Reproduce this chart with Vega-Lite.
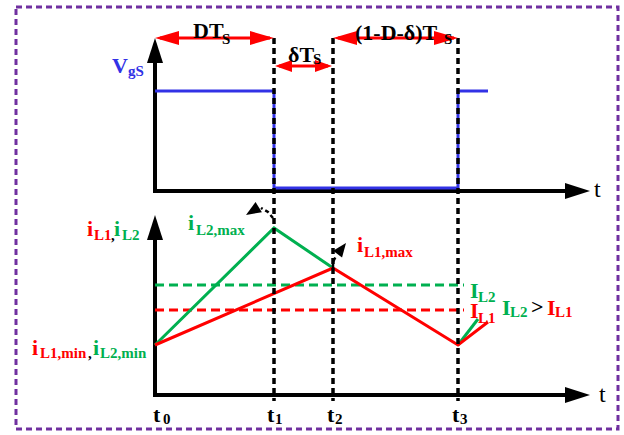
{
  "$schema": "https://vega.github.io/schema/vega-lite/v6.json",
  "width": 624,
  "height": 435,
  "autosize": {"type": "fit", "contains": "padding"},
  "padding": 0,
  "background": "white",
  "config": {"view": {"stroke": null}},
  "datasets": {
    "frame": [{"x": 16, "y": 7, "x2": 618, "y2": 429}],
    "axes": [
      {"x": 155, "y": 193, "x2": 155, "y2": 56},
      {"x": 153, "y": 191, "x2": 570, "y2": 191},
      {"x": 155, "y": 397, "x2": 155, "y2": 234},
      {"x": 153, "y": 395, "x2": 570, "y2": 395}
    ],
    "tipsUp": [{"x": 155, "y": 38}, {"x": 155, "y": 215}],
    "tipsRight": [{"x": 590, "y": 191}, {"x": 590, "y": 395}],
    "means": [
      {"s": "iL2", "x": 155, "x2": 464, "y": 285},
      {"s": "iL1", "x": 155, "x2": 464, "y": 310}
    ],
    "waves": [
      {"s": "vgs", "seg": "v", "k": 0, "x": 155, "y": 91},
      {"s": "vgs", "seg": "v", "k": 1, "x": 274, "y": 91},
      {"s": "vgs", "seg": "v", "k": 2, "x": 274, "y": 188},
      {"s": "vgs", "seg": "v", "k": 3, "x": 458, "y": 188},
      {"s": "vgs", "seg": "v", "k": 4, "x": 458, "y": 91},
      {"s": "vgs", "seg": "v", "k": 5, "x": 488, "y": 91},
      {"s": "iL2", "seg": "g1", "k": 0, "x": 155, "y": 345},
      {"s": "iL2", "seg": "g1", "k": 1, "x": 274, "y": 228},
      {"s": "iL2", "seg": "g1", "k": 2, "x": 333, "y": 268},
      {"s": "iL2", "seg": "g2", "k": 0, "x": 458, "y": 345},
      {"s": "iL2", "seg": "g2", "k": 1, "x": 478, "y": 319},
      {"s": "iL1", "seg": "r1", "k": 0, "x": 155, "y": 345},
      {"s": "iL1", "seg": "r1", "k": 1, "x": 333, "y": 268},
      {"s": "iL1", "seg": "r1", "k": 2, "x": 458, "y": 345},
      {"s": "iL1", "seg": "r1", "k": 3, "x": 488, "y": 322}
    ],
    "guides": [
      {"x": 274, "y": 38, "y2": 401},
      {"x": 333, "y": 38, "y2": 401},
      {"x": 458, "y": 38, "y2": 401}
    ],
    "spans": [
      {"x": 160, "y": 38, "x2": 270, "y2": 38},
      {"x": 279, "y": 66, "x2": 328, "y2": 66},
      {"x": 338, "y": 38, "x2": 454, "y2": 38}
    ],
    "spanLeft": [{"x": 155, "y": 38}, {"x": 333, "y": 38}],
    "spanRight": [{"x": 274, "y": 38}, {"x": 458, "y": 38}],
    "spanLeftSmall": [{"x": 275, "y": 66}],
    "spanRightSmall": [{"x": 332, "y": 66}],
    "pointers": [
      {"seg": "a", "k": 0, "x": 273, "y": 218},
      {"seg": "a", "k": 1, "x": 268, "y": 212},
      {"seg": "a", "k": 2, "x": 261, "y": 208},
      {"seg": "b", "k": 0, "x": 333, "y": 268},
      {"seg": "b", "k": 1, "x": 333, "y": 262},
      {"seg": "b", "k": 2, "x": 336, "y": 256}
    ],
    "pointerTipA": [{"x": 246, "y": 215}],
    "pointerTipB": [{"x": 346, "y": 243}],
    "mainText": [
      {"x": 193, "y": 38, "t": "DT", "s": "ink"},
      {"x": 288, "y": 62, "t": "δT", "s": "ink"},
      {"x": 355, "y": 40, "t": "(1-D-δ)T", "s": "ink"},
      {"x": 112, "y": 73, "t": "V", "s": "vgs"},
      {"x": 87, "y": 236, "t": "i", "s": "iL1"},
      {"x": 114, "y": 236, "t": "i", "s": "iL2"},
      {"x": 188, "y": 230, "t": "i", "s": "iL2"},
      {"x": 357, "y": 252, "t": "i", "s": "iL1"},
      {"x": 32, "y": 355, "t": "i", "s": "iL1"},
      {"x": 93, "y": 355, "t": "i", "s": "iL2"},
      {"x": 470, "y": 298, "t": "I", "s": "iL2"},
      {"x": 470, "y": 318, "t": "I", "s": "iL1"},
      {"x": 502, "y": 315, "t": "I", "s": "iL2"},
      {"x": 531, "y": 314, "t": ">", "s": "ink"},
      {"x": 547, "y": 315, "t": "I", "s": "iL1"},
      {"x": 153, "y": 422, "t": "t", "s": "ink"},
      {"x": 267, "y": 422, "t": "t", "s": "ink"},
      {"x": 327, "y": 422, "t": "t", "s": "ink"},
      {"x": 452, "y": 422, "t": "t", "s": "ink"}
    ],
    "subText": [
      {"x": 222, "y": 44, "t": "S", "s": "ink"},
      {"x": 313, "y": 64, "t": "S", "s": "ink"},
      {"x": 444, "y": 44, "t": "S", "s": "ink"},
      {"x": 128, "y": 76, "t": "gS", "s": "vgs"},
      {"x": 94, "y": 240, "t": "L1", "s": "iL1"},
      {"x": 111, "y": 240, "t": ",", "s": "ink"},
      {"x": 122, "y": 240, "t": "L2", "s": "iL2"},
      {"x": 196, "y": 235, "t": "L2,max", "s": "iL2"},
      {"x": 364, "y": 257, "t": "L1,max", "s": "iL1"},
      {"x": 40, "y": 358, "t": "L1,min", "s": "iL1"},
      {"x": 88, "y": 358, "t": ",", "s": "ink"},
      {"x": 100, "y": 358, "t": "L2,min", "s": "iL2"},
      {"x": 478, "y": 302, "t": "L2", "s": "iL2"},
      {"x": 478, "y": 323, "t": "L1", "s": "iL1"},
      {"x": 510, "y": 317, "t": "L2", "s": "iL2"},
      {"x": 555, "y": 317, "t": "L1", "s": "iL1"},
      {"x": 163, "y": 424, "t": "0", "s": "ink"},
      {"x": 275, "y": 424, "t": "1", "s": "ink"},
      {"x": 335, "y": 424, "t": "2", "s": "ink"},
      {"x": 460, "y": 424, "t": "3", "s": "ink"}
    ],
    "axisText": [
      {"x": 594, "y": 197, "t": "t"},
      {"x": 599, "y": 402, "t": "t"}
    ]
  },
  "encoding": {
    "x": {"field": "x", "type": "quantitative", "scale": {"domain": [0, 624], "nice": false, "zero": false}, "axis": null},
    "y": {"field": "y", "type": "quantitative", "scale": {"domain": [0, 435], "reverse": true, "nice": false, "zero": false}, "axis": null}
  },
  "layer": [
    {
      "data": {"name": "frame"},
      "mark": {"type": "rect", "fill": "transparent", "stroke": "#7030a0", "strokeWidth": 3, "strokeDash": [6, 4]},
      "encoding": {"x2": {"field": "x2"}, "y2": {"field": "y2"}}
    },
    {
      "data": {"name": "axes"},
      "mark": {"type": "rule", "color": "#000000", "strokeWidth": 4},
      "encoding": {"x2": {"field": "x2"}, "y2": {"field": "y2"}}
    },
    {
      "data": {"name": "tipsUp"},
      "mark": {"type": "point", "shape": "M0,0L0.64,2L-0.64,2Z", "size": 625, "filled": true, "opacity": 1, "color": "#000000", "strokeWidth": 0}
    },
    {
      "data": {"name": "tipsRight"},
      "mark": {"type": "point", "shape": "M0,0L0.64,2L-0.64,2Z", "size": 625, "angle": 90, "filled": true, "opacity": 1, "color": "#000000", "strokeWidth": 0}
    },
    {
      "data": {"name": "means"},
      "mark": {"type": "rule", "strokeWidth": 3, "strokeDash": [9, 5]},
      "encoding": {
        "x2": {"field": "x2"},
        "color": {"field": "s", "type": "nominal", "scale": {"domain": ["iL1", "iL2", "vgs", "ink", "span"], "range": ["#ff0000", "#00b050", "#3232e6", "#000000", "#ff0000"]}, "legend": null}
      }
    },
    {
      "data": {"name": "waves"},
      "mark": {"type": "line", "strokeWidth": 3},
      "encoding": {
        "detail": {"field": "seg"},
        "order": {"field": "k", "type": "quantitative"},
        "color": {"field": "s", "type": "nominal", "scale": {"domain": ["iL1", "iL2", "vgs", "ink", "span"], "range": ["#ff0000", "#00b050", "#3232e6", "#000000", "#ff0000"]}, "legend": null}
      }
    },
    {
      "data": {"name": "guides"},
      "mark": {"type": "rule", "color": "#000000", "strokeWidth": 3.5, "strokeDash": [6, 4]},
      "encoding": {"y2": {"field": "y2"}}
    },
    {
      "data": {"name": "spans"},
      "mark": {"type": "rule", "color": "#ff0000", "strokeWidth": 3},
      "encoding": {"x2": {"field": "x2"}, "y2": {"field": "y2"}}
    },
    {
      "data": {"name": "spanLeft"},
      "mark": {"type": "point", "shape": "M0,0L0.58,2L-0.58,2Z", "size": 576, "angle": 270, "filled": true, "opacity": 1, "color": "#ff0000", "strokeWidth": 0}
    },
    {
      "data": {"name": "spanRight"},
      "mark": {"type": "point", "shape": "M0,0L0.58,2L-0.58,2Z", "size": 576, "angle": 90, "filled": true, "opacity": 1, "color": "#ff0000", "strokeWidth": 0}
    },
    {
      "data": {"name": "spanLeftSmall"},
      "mark": {"type": "point", "shape": "M0,0L0.7,2L-0.7,2Z", "size": 289, "angle": 270, "filled": true, "opacity": 1, "color": "#ff0000", "strokeWidth": 0}
    },
    {
      "data": {"name": "spanRightSmall"},
      "mark": {"type": "point", "shape": "M0,0L0.7,2L-0.7,2Z", "size": 289, "angle": 90, "filled": true, "opacity": 1, "color": "#ff0000", "strokeWidth": 0}
    },
    {
      "data": {"name": "pointers"},
      "mark": {"type": "line", "color": "#000000", "strokeWidth": 2.5, "strokeDash": [4, 3]},
      "encoding": {"detail": {"field": "seg"}, "order": {"field": "k", "type": "quantitative"}}
    },
    {
      "data": {"name": "pointerTipA"},
      "mark": {"type": "point", "shape": "M0,0L0.8,2L-0.8,2Z", "size": 225, "angle": 238, "filled": true, "opacity": 1, "color": "#000000", "strokeWidth": 0}
    },
    {
      "data": {"name": "pointerTipB"},
      "mark": {"type": "point", "shape": "M0,0L0.8,2L-0.8,2Z", "size": 196, "angle": 37, "filled": true, "opacity": 1, "color": "#000000", "strokeWidth": 0}
    },
    {
      "data": {"name": "mainText"},
      "mark": {"type": "text", "align": "left", "baseline": "alphabetic", "font": "'Liberation Serif', 'DejaVu Serif', serif", "fontWeight": "bold", "fontSize": 22},
      "encoding": {
        "text": {"field": "t"},
        "color": {"field": "s", "type": "nominal", "scale": {"domain": ["iL1", "iL2", "vgs", "ink", "span"], "range": ["#ff0000", "#00b050", "#3232e6", "#000000", "#ff0000"]}, "legend": null}
      }
    },
    {
      "data": {"name": "subText"},
      "mark": {"type": "text", "align": "left", "baseline": "alphabetic", "font": "'Liberation Serif', 'DejaVu Serif', serif", "fontWeight": "bold", "fontSize": 15},
      "encoding": {
        "text": {"field": "t"},
        "color": {"field": "s", "type": "nominal", "scale": {"domain": ["iL1", "iL2", "vgs", "ink", "span"], "range": ["#ff0000", "#00b050", "#3232e6", "#000000", "#ff0000"]}, "legend": null}
      }
    },
    {
      "data": {"name": "axisText"},
      "mark": {"type": "text", "align": "left", "baseline": "alphabetic", "font": "'Liberation Serif', 'DejaVu Serif', serif", "fontSize": 24, "color": "#000000"},
      "encoding": {"text": {"field": "t"}}
    }
  ]
}
